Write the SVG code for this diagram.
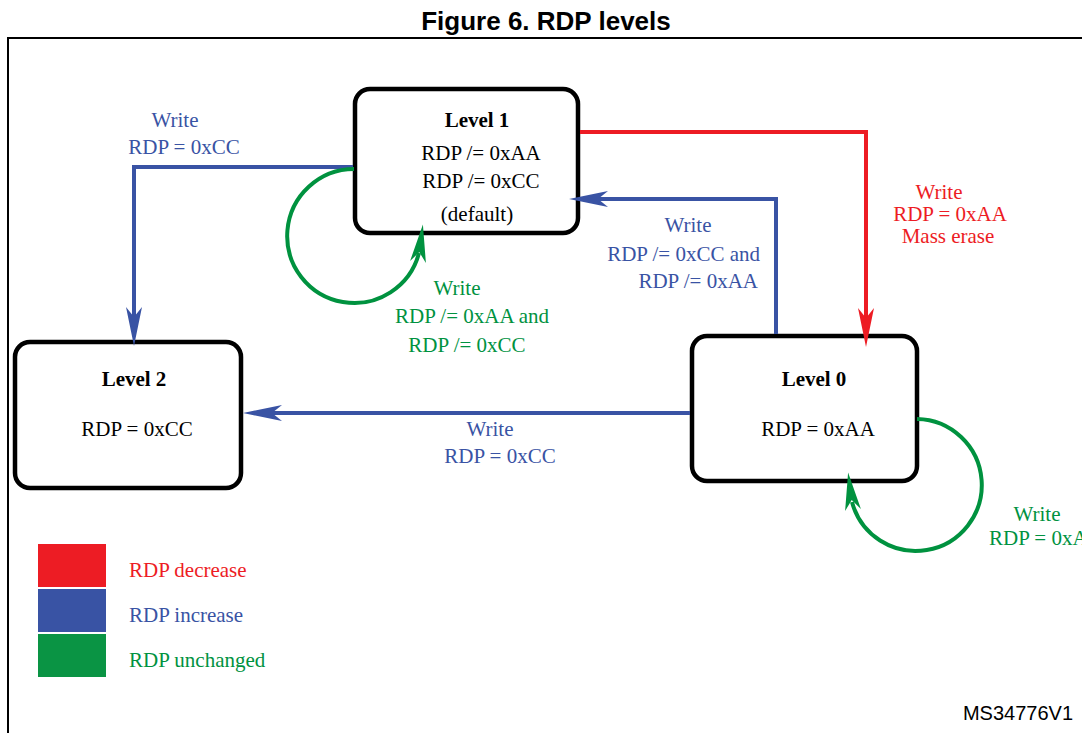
<svg xmlns="http://www.w3.org/2000/svg" width="1082" height="733" viewBox="0 0 1082 733">
<style>
.box{fill:#fff;stroke:#000;stroke-width:4.5}
.t{font-family:"Liberation Serif","Times New Roman",serif;font-size:21px;text-anchor:middle}
.b{font-weight:bold}
.k{fill:#000}
.red{fill:#ED1C24}
.blue{fill:#3953A4}
.green{fill:#00923F}
.lr{fill:none;stroke:#ED1C24;stroke-width:4}
.lb{fill:none;stroke:#3953A4;stroke-width:4}
.lg{fill:none;stroke:#00923F;stroke-width:4}
</style>
<defs>
<marker id="ar" markerUnits="userSpaceOnUse" markerWidth="40" markerHeight="18" refX="10" refY="8" orient="auto" overflow="visible"><path d="M0,0 L39,8 L0,16 L10,8 Z" fill="#ED1C24"/></marker>
<marker id="ab" markerUnits="userSpaceOnUse" markerWidth="40" markerHeight="18" refX="10" refY="8" orient="auto" overflow="visible"><path d="M0,0 L39,8 L0,16 L10,8 Z" fill="#3953A4"/></marker>
</defs>
<rect width="1082" height="733" fill="#fff"/>
<text x="546" y="30" font-family="Liberation Sans, Arial, sans-serif" font-size="26" font-weight="bold" text-anchor="middle">Figure 6. RDP levels</text>
<path d="M8,733 V38 H1082" fill="none" stroke="#000" stroke-width="2"/>

<g id="level1">
<rect class="box" x="355" y="89" width="223" height="144" rx="15"/>
<text class="t b k" x="477" y="127">Level 1</text>
<text class="t k" x="481" y="160">RDP /= 0xAA</text>
<text class="t k" x="481" y="188">RDP /= 0xCC</text>
<text class="t k" x="477" y="221">(default)</text>
</g>
<g id="level2">
<rect class="box" x="15" y="342" width="226" height="146" rx="15"/>
<text class="t b k" x="134" y="386">Level 2</text>
<text class="t k" x="137" y="436">RDP = 0xCC</text>
</g>
<g id="level0">
<rect class="box" x="692" y="336" width="225" height="145" rx="15"/>
<text class="t b k" x="814" y="386">Level 0</text>
<text class="t k" x="818" y="436">RDP = 0xAA</text>
</g>

<g id="connectors">
<path class="lr" d="M580,132 H866 V318" marker-end="url(#ar)"/>
<path class="lb" d="M776,334 V199 H598" marker-end="url(#ab)"/>
<path class="lb" d="M353,167 H134 V317" marker-end="url(#ab)"/>
<path class="lb" d="M690,413 H272" marker-end="url(#ab)"/>
<path class="lg" d="M354,169 A67,67 0 1 0 419,253"/>
<path d="M410.1,261 L422.9,224.4 L425.9,263 L419.3,252.1 Z" fill="#00923F"/>
<path class="lg" d="M917,419 A66,66 0 1 1 852,502"/>
<path d="M860.9,509 L848.1,472.4 L845.1,511 L851.7,500.1 Z" fill="#00923F"/>

<text class="t blue" x="175" y="127">Write</text>
<text class="t blue" x="184" y="154">RDP = 0xCC</text>
<text class="t red" x="939" y="199">Write</text>
<text class="t red" x="950" y="221">RDP = 0xAA</text>
<text class="t red" x="948" y="243">Mass erase</text>
<text class="t blue" x="688" y="232">Write</text>
<text class="t blue" x="760" y="261" text-anchor="end" style="text-anchor:end">RDP /= 0xCC and</text>
<text class="t blue" x="758" y="288" style="text-anchor:end">RDP /= 0xAA</text>
<text class="t green" x="457" y="295">Write</text>
<text class="t green" x="472" y="323">RDP /= 0xAA and</text>
<text class="t green" x="467" y="352">RDP /= 0xCC</text>
<text class="t blue" x="490" y="436">Write</text>
<text class="t blue" x="500" y="463">RDP = 0xCC</text>
<text class="t green" x="1037" y="521">Write</text>
<text class="t green" x="989" y="545" style="text-anchor:start">RDP = 0xAA</text>
</g>

<g id="legend">
<rect x="38" y="544" width="68" height="43" fill="#ED1C24"/>
<rect x="38" y="589" width="68" height="43" fill="#3953A4"/>
<rect x="38" y="634" width="68" height="43" fill="#0A9444"/>
<text class="t red" x="129" y="577" style="text-anchor:start">RDP decrease</text>
<text class="t blue" x="129" y="622" style="text-anchor:start">RDP increase</text>
<text class="t green" x="129" y="667" style="text-anchor:start">RDP unchanged</text>
</g>
<text x="1073" y="720" font-family="Liberation Sans, Arial, sans-serif" font-size="20" text-anchor="end">MS34776V1</text>
</svg>
